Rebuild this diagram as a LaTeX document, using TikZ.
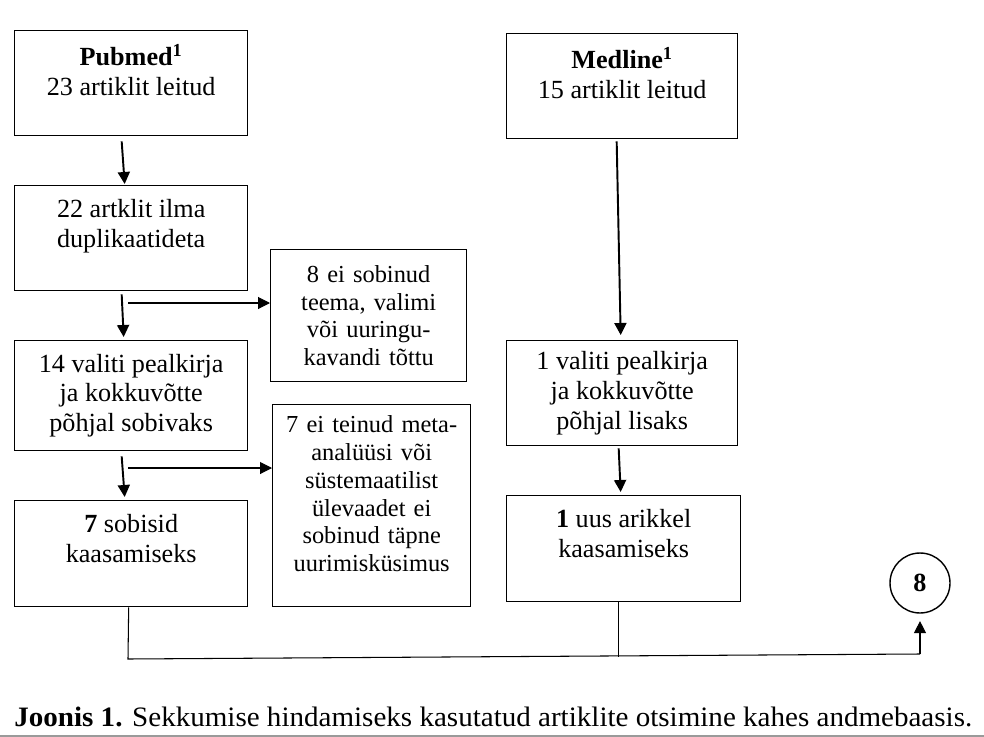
\documentclass[tikz,border=0pt]{standalone}
\usepackage{fontspec}
\setmainfont{Liberation Serif}
\usepackage{graphicx}
\usepackage{tikz}
\usetikzlibrary{arrows.meta,positioning,calc}
\definecolor{fcInk}{HTML}{000000}
\definecolor{fcRule}{HTML}{9A9A9A}
\newcommand{\fcBig}{\fontsize{14.9}{17}\selectfont}
\newcommand{\fcSmall}{\fontsize{13.9}{15.8}\selectfont}
\tikzset{
  box/.style      ={draw=fcInk,line width=0.8pt,align=center,inner sep=2pt,
                    anchor=north west},
  mainbox/.style  ={box,font=\fcBig,minimum width=4.66cm,minimum height=2.1cm},
  sidebox/.style  ={box,font=\fcSmall,text width=3.6cm},
  total/.style    ={draw=fcInk,line width=0.8pt,circle,minimum size=1.2cm,
                    inner sep=0pt,font=\fcBig\bfseries},
  flow/.style     ={-{Triangle[length=2.4mm,width=2.4mm]},fcInk,line width=1.1pt},
  sideflow/.style ={-{Triangle[length=2.4mm,width=2.4mm]},fcInk,line width=0.6pt},
  merge/.style    ={fcInk,line width=0.6pt},
  caption/.style  ={anchor=west,inner sep=0pt,font=\fontsize{16}{19}\selectfont},
}

\begin{document}
\begin{tikzpicture}[x=0.02cm,y=-0.02cm]
\useasboundingbox (0,0) rectangle (984,737);

% Pubmed column
\node[mainbox] (pub) at (14,30) {\textbf{Pubmed\textsuperscript{1}}\\23 artiklit leitud\\[-7pt]\strut};
\node[mainbox] (dup) at (14,185) {22 artklit ilma\\duplikaatideta\\[-5pt]\strut};
\node[mainbox,minimum height=2.2cm] (sel) at (14,340) {14 valiti pealkirja\\ja kokkuvõtte\\põhjal sobivaks};
\node[mainbox,minimum height=2.12cm] (inc) at (14,500) {\textbf{7} sobisid\\kaasamiseks\\[-5pt]\strut};

% excluded
\node[sidebox,minimum width=3.92cm,minimum height=2.64cm] (wrong) at (270,249)
  {8 ei sobinud\\teema, valimi\\või uuringu-\\kavandi tõttu};
\node[sidebox,minimum width=3.96cm,minimum height=4.04cm] (nometa) at (272,404)
  {7 ei teinud meta-\\analüüsi või\\süstemaatilist\\ülevaadet ei\\sobinud täpne\\uurimisküsimus\\[-7pt]\strut};

% Medline column
\node[mainbox,minimum width=4.62cm] (med) at (506,33) {\textbf{Medline\textsuperscript{1}}\\15 artiklit leitud\\[-7pt]\strut};
\node[mainbox,minimum width=4.62cm] (medsel) at (506,340) {1 valiti pealkirja\\ja kokkuvõtte\\põhjal lisaks};
\node[mainbox,minimum width=4.68cm,minimum height=2.12cm] (new) at (506,495) {\textbf{1} uus arikkel\\kaasamiseks\\[-5pt]\strut};

\node[total] (eight) at (920,583) {8};

\draw[flow] ($(pub.south)+(-9.5,5)$) -- ($(dup.north)+(-6.5,-1)$);
\draw[flow] ($(dup.south)+(-9.5,3)$) -- ($(sel.north)+(-7.5,-3)$);
\draw[flow] ($(sel.south)+(-9.5,5)$) -- ($(inc.north)+(-6.5,-3)$);
\draw[flow] ($(med.south)+(-5.5,2)$) -- ($(medsel.north)+(-1.5,-5)$);
\draw[flow] ($(medsel.south)+(-3.5,2)$) -- ($(new.north)+(-3,-3)$);

\coordinate (s1) at (128,303);
\coordinate (s2) at (128,468);
\draw[sideflow] (s1) -- (wrong.west |- s1);
\draw[sideflow] (s2) -- (nometa.west |- s2);

% the two results meet
\coordinate (jl) at (128,659);
\coordinate (jr) at (920,654);
\draw[merge] ($(inc.south)+(-2.5,0)$) -- (jl) -- (jr);
\draw[merge] ($(new.south)+(-5,0)$) -- ++(0,55);
\draw[sideflow,shorten >=7\pgflinewidth] (jr) -- (eight.south);

\node[caption] (cap) at (14,717)
  {\resizebox{19.16cm}{\height}{\textbf{Joonis 1.} Sekkumise hindamiseks kasutatud artiklite otsimine kahes andmebaasis.}};
\draw[fcRule,line width=1.2pt] (0,736) -- (984,736);
\end{tikzpicture}
\end{document}
